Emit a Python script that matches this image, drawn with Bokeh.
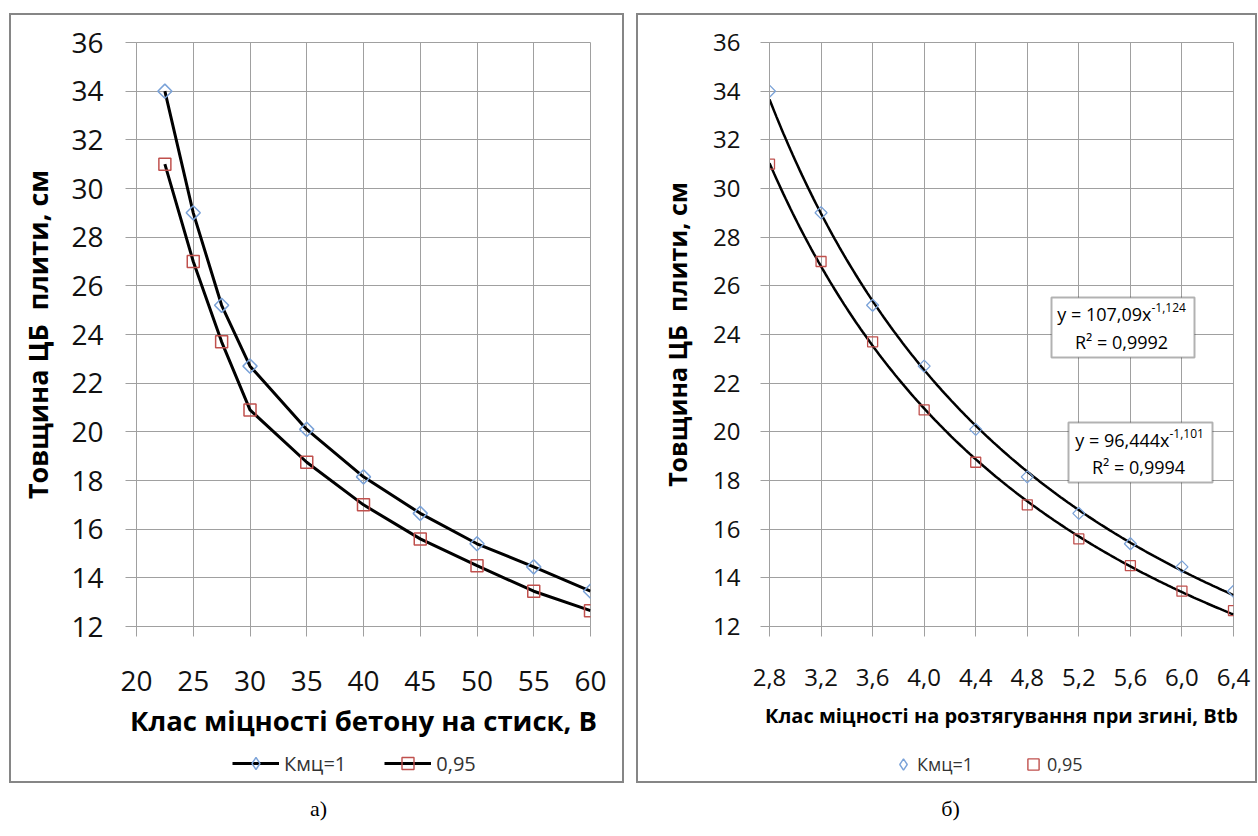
import numpy as np
from bokeh.plotting import figure
from bokeh.layouts import row, column
from bokeh.models import (FixedTicker, Range1d, BoxAnnotation, Label, Legend,
                          LegendItem, CustomJSTickFormatter, Div, Spacer)
from bokeh.embed import file_html
from bokeh.resources import INLINE

# ---------------- data ----------------
x_B = [22.5, 25, 27.5, 30, 35, 40, 45, 50, 55, 60]
x_Btb = [2.8, 3.2, 3.6, 4.0, 4.4, 4.8, 5.2, 5.6, 6.0, 6.4]
y_k1 = [34.0, 29.0, 25.2, 22.7, 20.1, 18.15, 16.65, 15.4, 14.45, 13.45]
y_k095 = [31.0, 27.0, 23.7, 20.9, 18.75, 17.0, 15.6, 14.5, 13.45, 12.65]
series_names = ["Кмц=1", "0,95"]

x_ticks_B = [20, 25, 30, 35, 40, 45, 50, 55, 60]
x_ticks_Btb = [2.8, 3.2, 3.6, 4.0, 4.4, 4.8, 5.2, 5.6, 6.0, 6.4]
y_ticks = [12, 14, 16, 18, 20, 22, 24, 26, 28, 30, 32, 34, 36]

trend_a = [107.09, 96.444]
trend_b = [-1.124, -1.101]
eq_main = ["y = 107,09x", "y = 96,444x"]
eq_exp = ["-1,124", "-1,101"]
eq_r2 = ["R² = 0,9992", "R² = 0,9994"]

y_title = "Товщина ЦБ\u00a0 плити, см"
x_title_left = "Клас міцності бетону на стиск, В"
x_title_right = "Клас міцності на розтягування при згині, Btb"
captions = ["а)", "б)"]

# ---------------- style / layout constants ----------------
FONT = "Open Sans"
GRID = "#a0a0a0"
BORDER = "#868686"
BLUE = "#7aa2d8"
RED = "#c0504d"
BW = 2                      # panel border width
PANEL_TOP, PANEL_BOTTOM = 13, 783
IN_TOP = PANEL_TOP + BW
IN_BOTTOM = PANEL_BOTTOM - BW
CHART_BOTTOM = 745          # chart canvas bottom; legend strip below it
FRAME_TOP, FRAME_BOTTOM = 42, 626
P1L, P1R = 9, 624           # left panel outer x
P2L, P2R = 636, 1257        # right panel outer x
F1L, F1R = 136, 590         # left plot frame x
F2L, F2R = 769, 1233        # right plot frame x
LEG_H = 30                  # legend row height


def chart_fig(xr, xt, in_left, in_right, f_left, f_right):
    p = figure(width=in_right - in_left, height=CHART_BOTTOM - IN_TOP,
               output_backend="svg", toolbar_location=None,
               x_range=Range1d(*xr), y_range=Range1d(12, 36),
               min_border_left=f_left - in_left, min_border_right=in_right - f_right,
               min_border_top=FRAME_TOP - IN_TOP,
               min_border_bottom=CHART_BOTTOM - FRAME_BOTTOM, margin=0)
    p.background_fill_color = "white"
    p.border_fill_color = "white"
    p.outline_line_color = GRID
    p.outline_line_width = 1
    p.xaxis.ticker = FixedTicker(ticks=xt)
    p.yaxis.ticker = FixedTicker(ticks=y_ticks)
    for ax in (p.xaxis[0], p.yaxis[0]):
        ax.axis_line_color = GRID
        ax.major_tick_line_color = GRID
        ax.minor_tick_line_color = None
        ax.major_tick_in = 0
        ax.major_label_text_font = FONT
        ax.major_label_text_color = "#111111"
        ax.axis_label_text_font = FONT
        ax.axis_label_text_font_style = "bold"
        ax.axis_label_text_color = "#000000"
    p.xgrid.ticker = FixedTicker(ticks=xt)
    p.ygrid.ticker = FixedTicker(ticks=y_ticks)
    p.xgrid.grid_line_color = GRID
    p.ygrid.grid_line_color = GRID
    p.yaxis.axis_label = y_title
    return p


def blank_fig(w, h):
    f = figure(width=w, height=h, output_backend="svg", toolbar_location=None,
               x_range=Range1d(0, w), y_range=Range1d(h, 0),
               x_axis_location=None, y_axis_location=None,
               min_border=0, min_border_left=0, min_border_right=0,
               min_border_top=0, min_border_bottom=0, margin=0)
    f.grid.visible = False
    f.outline_line_color = None
    f.background_fill_color = "white"
    f.border_fill_color = "white"
    return f


NAN = [float("nan")]   # placeholder so that legend-only renderers draw their sample


def legend_strip(w, items_spec, vx, center_y, glyph_width, standoff, spacing, fsize):
    # the strip's frame is aligned with the chart frame above it (same x extent)
    h = IN_BOTTOM - CHART_BOTTOM
    f = blank_fig(w, h)
    items = []
    for label, specs in items_spec:
        rs = []
        for kind, kw in specs:
            if kind == "line":
                rs.append(f.line(x=NAN, y=NAN, **kw))
            else:
                rs.append(f.scatter(x=NAN, y=NAN, **kw))
        items.append(LegendItem(label=label, renderers=rs))
    top = center_y - LEG_H / 2
    leg = Legend(items=items, location=(vx, h - (top - CHART_BOTTOM) - LEG_H),
                 orientation="horizontal", glyph_width=glyph_width, glyph_height=LEG_H,
                 label_height=LEG_H, label_standoff=standoff, spacing=spacing,
                 padding=0, margin=0, border_line_color=None, background_fill_alpha=0,
                 label_text_font=FONT, label_text_font_size=fsize,
                 label_text_color="#333333")
    f.add_layout(leg, "center")
    return f


def hbar(w):
    return Div(text="", width=w, height=BW, margin=0, styles={"background-color": BORDER})


def vbar(h):
    return Div(text="", width=BW, height=h, margin=0, styles={"background-color": BORDER})


def panel(left, right, chart, strip):
    w = right - left
    inner_h = IN_BOTTOM - IN_TOP
    return column(hbar(w), row(vbar(inner_h), column(chart, strip, spacing=0),
                               vbar(inner_h), spacing=0),
                  hbar(w), spacing=0)


diamond1 = dict(marker="square", angle=np.pi / 4, size=10,
                line_color=BLUE, fill_color=None, line_width=1.5)
square1 = dict(marker="square", size=12, line_color=RED, fill_color=None, line_width=1.5)
diamond2 = dict(marker="square", angle=np.pi / 4, size=8.5,
                line_color=BLUE, fill_color=None, line_width=1.3)
square2 = dict(marker="square", size=10, line_color=RED, fill_color=None, line_width=1.3)
black_line = dict(line_color="black", line_width=3)
# legend samples (legend markers are sized by the legend box and are not rotated)
leg_diamond = dict(marker="diamond", line_color=BLUE, fill_color=None, line_width=1.4)
leg_square = dict(marker="square", line_color=RED, fill_color=None, line_width=1.4)

# ---------------- left chart ----------------
I1L, I1R = P1L + BW, P1R - BW
p1 = chart_fig((20, 60), x_ticks_B, I1L, I1R, F1L, F1R)
p1.xaxis.major_tick_out = 10
p1.yaxis.major_tick_out = 11
p1.xaxis.major_label_text_font_size = "28px"
p1.yaxis.major_label_text_font_size = "28px"
p1.xaxis.major_label_standoff = 34
p1.yaxis.major_label_standoff = 22
p1.xaxis.axis_label = x_title_left
p1.xaxis.axis_label_text_font_size = "27.5px"
p1.yaxis.axis_label_text_font_size = "27px"
p1.xaxis.axis_label_standoff = 8
p1.yaxis.axis_label_standoff = 12

p1.line(x_B, y_k1, **black_line)
p1.line(x_B, y_k095, **black_line)
p1.scatter(x_B, y_k1, **diamond1)
p1.scatter(x_B, y_k095, **square1)

strip1 = legend_strip(I1R - I1L,
                      [(series_names[0], [("line", black_line), ("scatter", leg_diamond)]),
                       (series_names[1], [("line", black_line), ("scatter", leg_square)])],
                      232 - F1L, 763, 47, 5, 38, "20px")

# ---------------- right chart ----------------
I2L, I2R = P2L + BW, P2R - BW
p2 = chart_fig((2.8, 6.4), x_ticks_Btb, I2L, I2R, F2L, F2R)
p2.xaxis.formatter = CustomJSTickFormatter(code="return tick.toFixed(1).replace('.', ',');")
p2.xaxis.major_tick_out = 10
p2.yaxis.major_tick_out = 9
p2.xaxis.major_label_text_font_size = "24px"
p2.yaxis.major_label_text_font_size = "24px"
p2.xaxis.major_label_standoff = 32
p2.yaxis.major_label_standoff = 20
p2.xaxis.axis_label = x_title_right
p2.xaxis.axis_label_text_font_size = "20px"
p2.yaxis.axis_label_text_font_size = "25px"
p2.xaxis.axis_label_standoff = 13
p2.yaxis.axis_label_standoff = 16

xs = np.linspace(x_Btb[0], x_Btb[-1], 200)
for a, b in zip(trend_a, trend_b):
    p2.line(xs, a * xs ** b, line_color="black", line_width=2.5)
p2.scatter(x_Btb, y_k1, **diamond2)
p2.scatter(x_Btb, y_k095, **square2)

# equation boxes (canvas pixels of the right chart)
boxes = [(1051, 1194, 297, 357, 1151, 313, 1121, 341),
         (1068, 1212, 422, 482, 1169, 439, 1138, 466)]
for i, (bl, br, bt, bb, ex, ey, rx, ry) in enumerate(boxes):
    p2.add_layout(BoxAnnotation(left=bl - I2L, right=br - I2L,
                                top=bt - IN_TOP, bottom=bb - IN_TOP,
                                left_units="canvas", right_units="canvas",
                                top_units="canvas", bottom_units="canvas",
                                fill_color="white", fill_alpha=1,
                                line_color="black", line_width=2))
    p2.add_layout(Label(x=ex - I2L, y=ey - IN_TOP, x_units="canvas", y_units="canvas",
                        text=eq_main[i], text_font=FONT, text_font_size="18px",
                        text_align="right", text_baseline="middle", text_color="black"))
    p2.add_layout(Label(x=ex - I2L, y=ey - 6 - IN_TOP, x_units="canvas", y_units="canvas",
                        text=eq_exp[i], text_font=FONT, text_font_size="12px",
                        text_align="left", text_baseline="middle", text_color="black"))
    p2.add_layout(Label(x=rx - I2L, y=ry - IN_TOP, x_units="canvas", y_units="canvas",
                        text=eq_r2[i], text_font=FONT, text_font_size="18px",
                        text_align="center", text_baseline="middle", text_color="black"))

strip2 = legend_strip(I2R - I2L,
                      [(series_names[0], [("scatter", leg_diamond)]),
                       (series_names[1], [("scatter", leg_square)])],
                      889 - F2L, 764, 28, 0, 46, "18px")

# ---------------- captions ----------------
capfig = blank_fig(1258, 836 - PANEL_BOTTOM)
for txt, cx in zip(captions, [318, 950]):
    capfig.add_layout(Label(x=cx, y=808 - PANEL_BOTTOM, text=txt,
                            text_font="Liberation Serif", text_font_size="22px",
                            text_align="center", text_baseline="middle",
                            text_color="black"))

panel1 = panel(P1L, P1R, p1, strip1)
panel2 = panel(P2L, P2R, p2, strip2)
ph = PANEL_BOTTOM - PANEL_TOP
page = column(
    Spacer(width=1258, height=PANEL_TOP, margin=0),
    row(Spacer(width=P1L, height=ph, margin=0), panel1,
        Spacer(width=P2L - P1R, height=ph, margin=0), panel2,
        Spacer(width=1258 - P2R, height=ph, margin=0), spacing=0),
    capfig, spacing=0)
open("out.html", "w").write(file_html(page, INLINE))
